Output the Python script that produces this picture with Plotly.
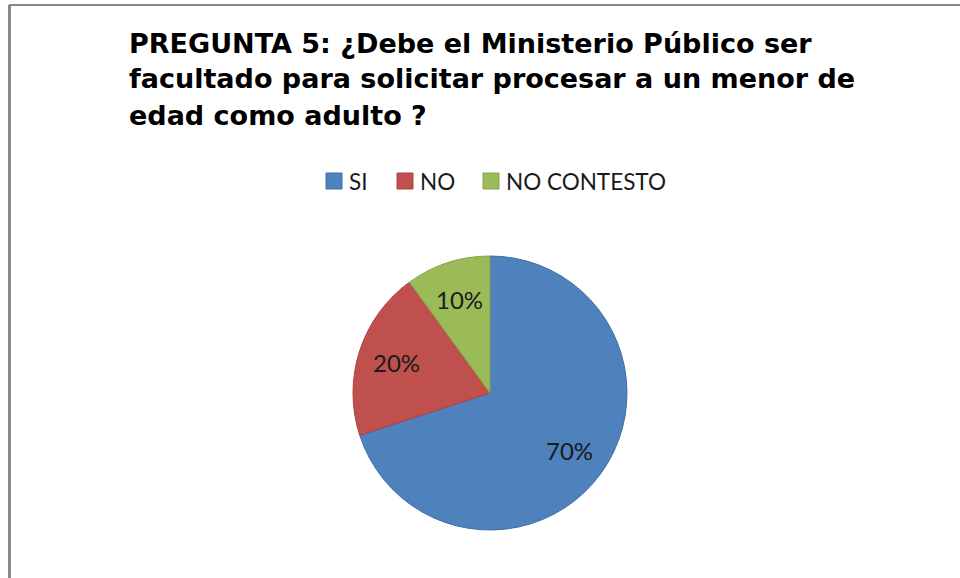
import math
import plotly.graph_objects as go

# Survey answers for question 5
categorias = ["SI", "NO", "NO CONTESTO"]
porcentajes = [70, 20, 10]
colores = ["#4F81BD", "#C0504D", "#9BBB59"]
bordes = ["#3F6FA8", "#A94441", "#86A44A"]

titulo = [
    "PREGUNTA 5: ¿Debe el Ministerio Público ser",
    "facultado para solicitar procesar a un menor de",
    "edad como adulto ?",
]

W, H = 960, 578


def px_x(v):
    return v / W


def px_y(v):
    return 1 - v / H


fig = go.Figure()

# Pie geometry (pixels)
cx, cy, r = 490, 393, 137

fig.add_trace(
    go.Pie(
        labels=categorias,
        values=porcentajes,
        sort=False,
        direction="clockwise",
        rotation=0,
        marker=dict(colors=colores, line=dict(color=bordes, width=1)),
        textinfo="none",
        showlegend=False,
        hoverinfo="label+percent",
        domain=dict(
            x=[px_x(cx - r), px_x(cx + r)],
            y=[px_y(cy + r), px_y(cy - r)],
        ),
    )
)

annotations = []

# Percentage labels placed along each slice's bisector
total = sum(porcentajes)
acum = 0
for v in porcentajes:
    theta = 2 * math.pi * (acum + v / 2) / total
    acum += v
    lx = cx + 0.72 * r * math.sin(theta)
    ly = cy - 0.72 * r * math.cos(theta)
    annotations.append(
        dict(
            text=f"{round(100 * v / total)}%",
            xref="paper",
            yref="paper",
            x=px_x(lx),
            y=px_y(ly),
            xanchor="center",
            yanchor="middle",
            showarrow=False,
            font=dict(family="Lato", size=24, color="#1a1a1a"),
        )
    )

# Title lines, left aligned
for i, linea in enumerate(titulo):
    annotations.append(
        dict(
            text=f"<b>{linea}</b>",
            xref="paper",
            yref="paper",
            x=px_x(127),
            y=px_y(43 + 36 * i),
            xanchor="left",
            yanchor="middle",
            showarrow=False,
            font=dict(family="DejaVu Sans", size=27, color="#000000"),
        )
    )

# Legend row: coloured squares followed by labels
shapes = []
leg_x = [326, 397, 483]
leg_y = 181
for xs, cat, col, bor in zip(leg_x, categorias, colores, bordes):
    shapes.append(
        dict(
            type="rect",
            xref="paper",
            yref="paper",
            x0=px_x(xs),
            x1=px_x(xs + 16),
            y0=px_y(leg_y + 8),
            y1=px_y(leg_y - 8),
            fillcolor=col,
            line=dict(color=bor, width=1),
        )
    )
    annotations.append(
        dict(
            text=cat,
            xref="paper",
            yref="paper",
            x=px_x(xs + 21),
            y=px_y(leg_y),
            xanchor="left",
            yanchor="middle",
            showarrow=False,
            font=dict(family="Lato", size=22.5, color="#1a1a1a"),
        )
    )

# Chart frame (top and left edges)
shapes.append(
    dict(type="line", xref="paper", yref="paper",
         x0=px_x(9), x1=1, y0=px_y(5), y1=px_y(5),
         line=dict(color="#8A8A8A", width=2))
)
shapes.append(
    dict(type="line", xref="paper", yref="paper",
         x0=px_x(9.5), x1=px_x(9.5), y0=px_y(5), y1=0,
         line=dict(color="#8A8A8A", width=3))
)

fig.update_layout(
    width=W,
    height=H,
    margin=dict(l=0, r=0, t=0, b=0),
    paper_bgcolor="white",
    plot_bgcolor="white",
    annotations=annotations,
    shapes=shapes,
    showlegend=False,
)

fig.write_html("out.html", include_plotlyjs=True, config={"displayModeBar": False})
